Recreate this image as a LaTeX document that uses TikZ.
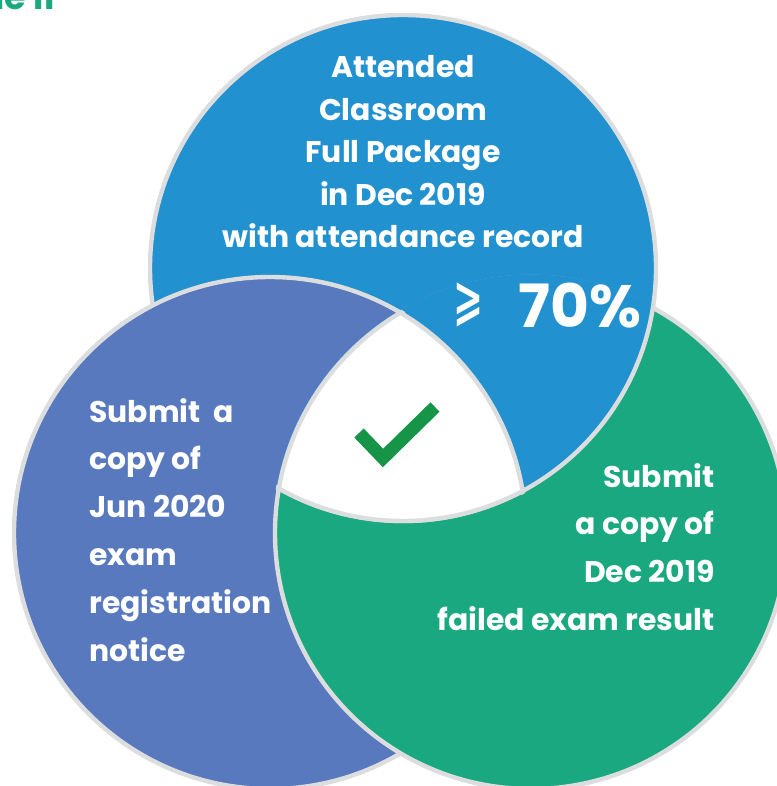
\documentclass[tikz,border=0pt]{standalone}
\usepackage{fontspec}
\setmainfont{Poppins}
\newfontfamily\symfont{DejaVu Sans}
\usetikzlibrary{positioning}

\definecolor{ringblue}{HTML}{2291D0}
\definecolor{ringpurple}{HTML}{5879BE}
\definecolor{ringgreen}{HTML}{19A880}
\definecolor{ringgray}{HTML}{DCDDDF}
\definecolor{tickgreen}{HTML}{169448}

\begin{document}
\begin{tikzpicture}[x=0.02cm, y=-0.02cm]
  \tikzstyle{ring}=[draw=ringgray, line width=2.5pt]
  \tikzstyle{txt}=[text=white, inner sep=0pt, font=\fontsize{17}{17}\selectfont\bfseries, text height=0.75em, text depth=0.25em, on grid]
  \tikzstyle{toptxt}=[txt, node distance=0.85cm]
  \tikzstyle{sidetxt}=[txt, node distance=0.96cm]
  \tikzstyle{big}=[text=white, inner sep=0pt, font=\fontsize{34}{34}\selectfont\bfseries]

  \useasboundingbox (0,0) rectangle (776,786);

  \coordinate (cblue) at (403,268);
  \coordinate (cpurple) at (270,533);
  \coordinate (cgreen) at (531,533);

  % blue, then purple, then green
  \path[ring, fill=ringblue] (cblue) circle[radius=253];
  \path[ring, fill=ringpurple] (cpurple) circle[radius=256];
  \path[ring, fill=ringgreen] (cgreen) circle[radius=256];
  % blue again over green
  \begin{scope}
    \clip (cgreen) circle[radius=258.5];
    \path[ring, fill=ringblue] (cblue) circle[radius=253];
  \end{scope}
  % white middle
  \begin{scope}
    \clip (cblue) circle[radius=253];
    \clip (cpurple) circle[radius=256];
    \clip (cgreen) circle[radius=256];
    \fill[white] (cblue) circle[radius=253];
  \end{scope}
  \begin{scope}
    \clip (cblue) circle[radius=256];
    \clip (cpurple) circle[radius=259];
    \clip (cgreen) circle[radius=259];
    \draw[ring] (cblue) circle[radius=253];
    \draw[ring] (cpurple) circle[radius=256];
    \draw[ring] (cgreen) circle[radius=256];
  \end{scope}

  \draw[tickgreen, line width=7.4pt] (359,433) -- (383,458) -- (435,407);

  \node[text=ringgreen, inner sep=0pt, font=\fontsize{20}{20}\selectfont\bfseries, anchor=base east] (title) at (55,10) {le II};

  \node[toptxt, anchor=base] (b1) at (403,78) {Attended};
  \node[toptxt, below=of b1] (b2) {Classroom};
  \node[toptxt, below=of b2] (b3) {Full Package};
  \node[toptxt, below=of b3] (b4) {in Dec 2019};
  \node[toptxt, below=of b4] (b5) {with attendance record};

  \node[big, anchor=base west] (pct) at (518,328) {70\%};
  \node[text=white, inner sep=0pt, anchor=south west] (geq) at (453,327) {\resizebox*{0.6cm}{0.88cm}{\symfont\bfseries ⩾}};

  \node[sidetxt, anchor=base west] (p1) at (89,422) {Submit\ \ a};
  \node[sidetxt, below=of p1.west, anchor=west] (p2) {copy of};
  \node[sidetxt, below=of p2.west, anchor=west] (p3) {Jun 2020};
  \node[sidetxt, below=of p3.west, anchor=west] (p4) {exam};
  \node[sidetxt, below=of p4.west, anchor=west] (p5) {registration};
  \node[sidetxt, below=of p5.west, anchor=west] (p6) {notice};

  \node[sidetxt, anchor=base east] (g1) at (715,487) {Submit};
  \node[sidetxt, below=of g1.east, anchor=east] (g2) {a copy of};
  \node[sidetxt, below=of g2.east, anchor=east] (g3) {Dec 2019};
  \node[sidetxt, below=of g3.east, anchor=east] (g4) {failed exam result};
\end{tikzpicture}
\end{document}
